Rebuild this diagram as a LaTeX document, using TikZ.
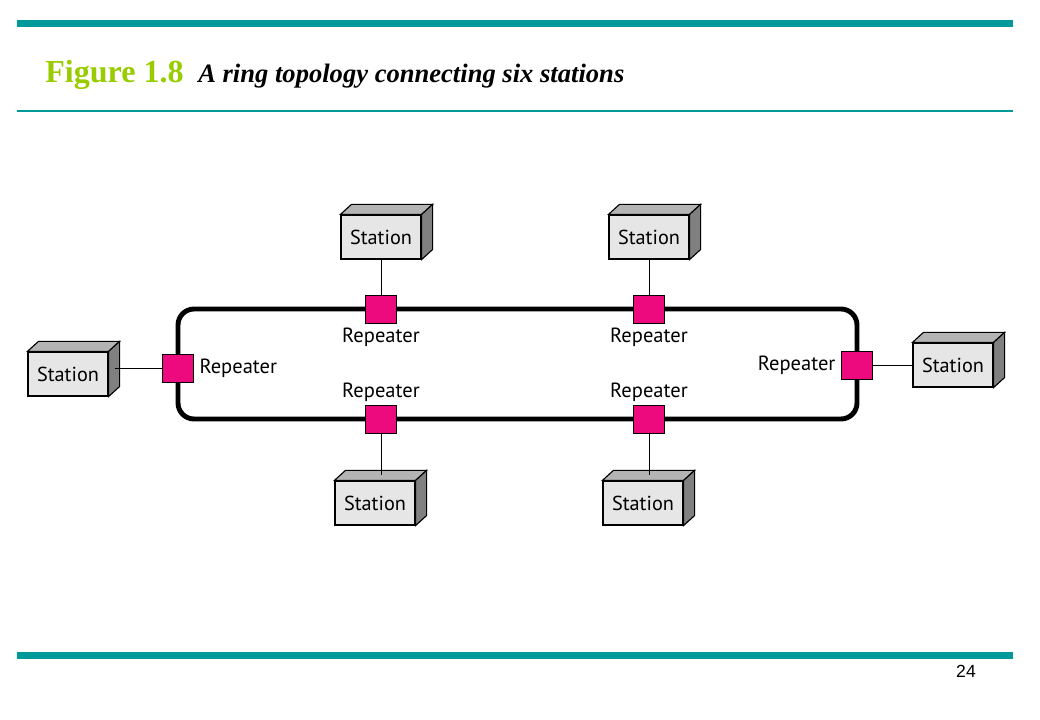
\documentclass[tikz,border=0pt]{standalone}
\usepackage{fontspec}
\setmainfont{Liberation Serif}
\setsansfont{PT Sans}
\newfontfamily\numfont{Liberation Sans}
\usetikzlibrary{positioning}
\definecolor{barteal}{HTML}{009999}
\definecolor{figgreen}{HTML}{99CC00}
\definecolor{reppink}{HTML}{EC0A7E}
\definecolor{stfront}{HTML}{E6E6E6}
\definecolor{sttop}{HTML}{B4B4B4}
\definecolor{stside}{HTML}{808080}
\begin{document}
\begin{tikzpicture}[x=0.025cm, y=-0.025cm, font=\sffamily,
    station/.style={draw=black, thick, fill=stfront, minimum width=2cm, minimum height=1.1cm,
                    inner sep=0pt, font=\sffamily\fontsize{14.4}{16}\selectfont},
    repeater/.style={draw=black, fill=reppink, minimum width=0.775cm, minimum height=0.7cm, inner sep=0pt},
    replabel/.style={font=\sffamily\fontsize{14.6}{16}\selectfont},
    link/.style={draw=black, thin}]
    \useasboundingbox (0,0) rectangle (1040,720);

    % bars
    \fill[barteal] (17,20) rectangle (1013,27);
    \fill[barteal] (17,110) rectangle (1013,112);
    \fill[barteal] (17,652) rectangle (1013,659);

    % title
    \node[anchor=base west, inner sep=0pt, text=figgreen, font=\rmfamily\bfseries\fontsize{22.8}{26}\selectfont]
        (fignum) at (45,83) {Figure 1.8};
    \node[anchor=base west, inner sep=0pt, font=\rmfamily\bfseries\itshape\fontsize{18.9}{22}\selectfont]
        (figtitle) at (198,83) {A ring topology connecting six stations};
    \node[inner sep=0pt, font=\numfont\fontsize{12.5}{14}\selectfont] (pagenum) at (966,671) {24};

    % ring
    \draw[line width=3.5pt, rounded corners=0.4cm] (178,309) rectangle (857,419);

    % repeaters
    \node[repeater] (r1) at (381,309) {};
    \node[repeater] (r2) at (649,309) {};
    \node[repeater] (r3) at (178,368) {};
    \node[repeater] (r4) at (857,365) {};
    \node[repeater] (r5) at (381,419) {};
    \node[repeater] (r6) at (649,419) {};

    \node[replabel, below=0cm of r1] (l1) {Repeater};
    \node[replabel, below=0cm of r2] (l2) {Repeater};
    \node[replabel, right=0.02cm of r3] (l3) {Repeater};
    \node[replabel, left=0.02cm of r4] (l4) {Repeater};
    \node[replabel, above=-0.05cm of r5] (l5) {Repeater};
    \node[replabel, above=-0.05cm of r6] (l6) {Repeater};

    % stations
    \node[station] (s1) at (381,237) {Station};
    \node[station] (s2) at (649,237) {Station};
    \node[station] (s3) at (68,374) {Station};
    \node[station] (s4) at (953,365) {Station};
    \node[station] (s5) at (375,503) {Station};
    \node[station] (s6) at (643,503) {Station};

    \foreach \s in {s1,s2,s3,s4,s5,s6} {
      \draw[thick, fill=sttop] (\s.north west) -- ([shift={(11,-10)}]\s.north west)
          -- ([shift={(11,-10)}]\s.north east) -- (\s.north east) -- cycle;
      \draw[thick, fill=stside] (\s.north east) -- ([shift={(11,-10)}]\s.north east)
          -- ([shift={(11,-10)}]\s.south east) -- (\s.south east) -- cycle;
    }

    % links
    \draw[link] (s1.south) -- (r1.north);
    \draw[link] (s2.south) -- (r2.north);
    \draw[link] ([shift={(6,-6)}]s3.east) -- (r3.west);
    \draw[link] (r4.east) -- (s4.west);
    \draw[link] (r5.south) -- ([shift={(6,-5)}]s5.north);
    \draw[link] (r6.south) -- ([shift={(6,-5)}]s6.north);

\end{tikzpicture}
\end{document}
